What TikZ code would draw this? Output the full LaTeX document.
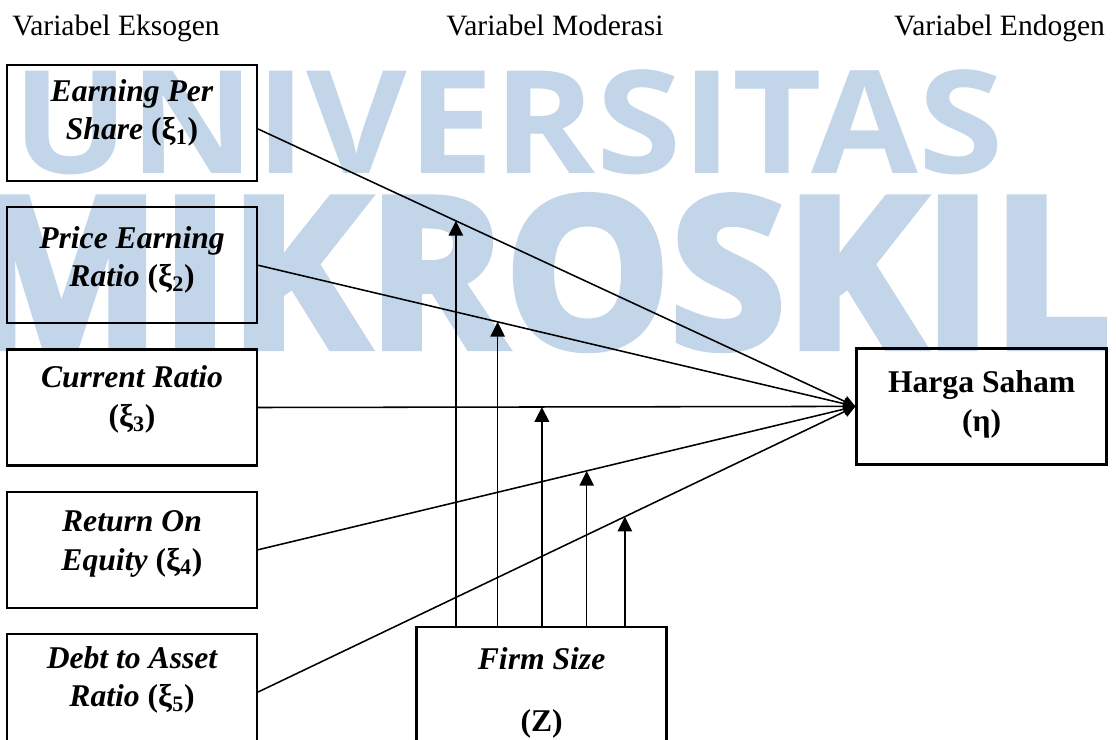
\documentclass[tikz,border=0pt]{standalone}
\usepackage{fontspec}
\setmainfont{Liberation Serif}
\newfontfamily\wmfont{Open Sans}
\newfontfamily\wmtebal{Open Sans}[BoldFeatures={FakeBold=4}]
\usetikzlibrary{positioning,arrows.meta}
\definecolor{wmblue}{RGB}{194,213,233}

\begin{document}
\begin{tikzpicture}[>={Triangle[length=0.37cm,width=0.36cm]},
	kotak/.style={draw, line width=1.6pt, minimum width=6.25cm, minimum height=2.9cm},
	isi/.style={align=center, font=\fontsize{22.5}{27.5}\selectfont\bfseries\itshape},
	judul/.style={font=\fontsize{21}{25}\selectfont, inner sep=0pt},
	panah/.style={line width=1.1pt},
	ujung/.style={-{Triangle[length=0.3cm,width=0.28cm]}}]
	\useasboundingbox (0,0) rectangle (27.9,-18.5);
	\clip (0,0) rectangle (27.9,-18.5);
	% tanda air
	\node[wmblue, anchor=base west, inner sep=0pt, xscale=1.08, font=\wmfont\fontsize{102}{102}\selectfont\bfseries] (wmatas) at (0.3,-4.325) {UNIVERSITAS};
	\node[wmblue, anchor=base east, inner sep=0pt, font=\wmtebal\fontsize{148}{148}\selectfont\bfseries] (wmbawah) at (27.75,-8.675) {MIKROSKIL};
	% judul kolom
	\node[judul, anchor=base west] (eksogen) at (0.3,-0.875) {Variabel Eksogen};
	\node[judul, anchor=base west] (moderasi) at (11.15,-0.875) {Variabel Moderasi};
	\node[judul, anchor=base east] (endogen) at (27.63,-0.875) {Variabel Endogen};
	% kotak variabel
	\node[kotak] (eps) at (3.3,-3.075) {};
	\node[kotak, below=0.6cm of eps] (per) {};
	\node[kotak, below=0.6cm of per] (cr) {};
	\node[kotak, below=0.6cm of cr] (roe) {};
	\node[kotak, below=0.6cm of roe] (dar) {};
	\node[kotak] (hs) at (24.54,-10.16) {};
	\node[kotak] (fs) at (13.54,-17.125) {};
	% teks
	\node[isi] (eps-t) at ([yshift=0.25cm]eps.center) {Earning Per\\Share \textup{(ξ\textsubscript{1})}};
	\node[isi] (per-t) at ([yshift=0.13cm]per.center) {Price Earning\\Ratio \textup{(ξ\textsubscript{2})}};
	\node[isi] (cr-t) at ([yshift=0.2cm]cr.center) {Current Ratio\\\textup{(ξ\textsubscript{3})}};
	\node[isi] (roe-t) at ([yshift=0.15cm]roe.center) {Return On\\Equity \textup{(ξ\textsubscript{4})}};
	\node[isi] (dar-t) at ([yshift=0.3cm]dar.center) {Debt to Asset\\Ratio \textup{(ξ\textsubscript{5})}};
	\node[isi, font=\fontsize{22.5}{27.5}\selectfont\bfseries] (hs-t) at ([yshift=0.05cm]hs.center) {Harga Saham\\(η)};
	\node[isi] (fs-t) at ([yshift=-0.2cm]fs.center) {Firm Size\\[0.6cm]\textup{(Z)}};
	% jalur ke harga saham
	\draw[panah, ujung] ([yshift=-0.15cm]eps.east) -- coordinate[pos=0.331] (m1) (hs.west);
	\draw[panah, ujung] (per.east) -- coordinate[pos=0.401] (m2) (hs.west);
	\draw[panah, ujung] (cr.east) -- coordinate[pos=0.475] (m3) (hs.west);
	\draw[panah, ujung] (roe.east) -- coordinate[pos=0.550] (m4) (hs.west);
	\draw[panah, ujung] (dar.east) -- coordinate[pos=0.614] (m5) (hs.west);
	% moderasi
	\foreach \m in {m1,m2,m3,m4,m5}
		\draw[panah, ->] (\m |- fs.north) -- (\m);
\end{tikzpicture}
\end{document}
